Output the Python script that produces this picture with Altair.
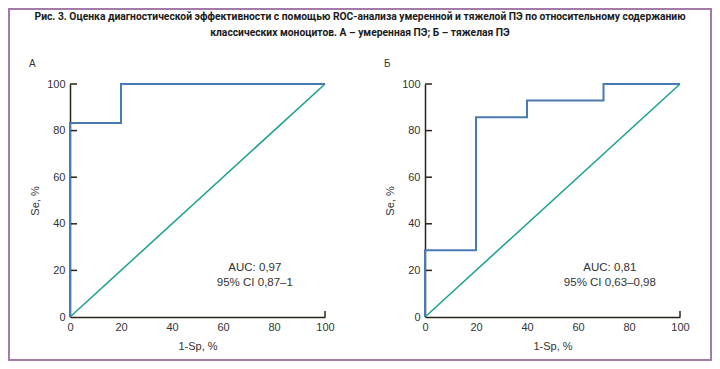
import altair as alt
import pandas as pd

# ---- data ----
fpr_a = [0, 0, 20, 20, 100]
se_a = [0, 83.3, 83.3, 100, 100]
fpr_b = [0, 0, 20, 20, 40, 40, 70, 70, 100]
se_b = [0, 28.6, 28.6, 85.7, 85.7, 92.9, 92.9, 100, 100]
diag_x = [0, 100]
diag_y = [0, 100]
ticks = [0, 20, 40, 60, 80, 100]
x_inner_ticks = [100]
auc_a = ["AUC: 0,97", "95% CI 0,87\u20131"]
auc_b = ["AUC: 0,81", "95% CI 0,63\u20130,98"]
title_lines = [
    "Рис. 3. Оценка диагностической эффективности с помощью ROC-анализа умеренной и тяжелой ПЭ по относительному содержанию",
    "классических моноцитов.  А – умеренная ПЭ; Б – тяжелая ПЭ",
]
panel_labels = ["А", "Б"]

W, H = 255, 233
FONT = "Liberation Sans"
ROC_COLOR = "#4a7ab2"
DIAG_COLOR = "#18a08c"
AXIS_COLOR = "#2b2318"
TEXT_COLOR = "#333333"
BORDER_COLOR = "#a47aa8"


def panel(fx, sy, auc, label, extra=None):
    roc_df = pd.DataFrame({"x": fx, "y": sy, "o": list(range(len(fx)))})
    diag_df = pd.DataFrame({"x": diag_x, "y": diag_y})
    txt_df = pd.DataFrame({"x": [72.5], "y": [21.0], "t": [auc]})

    xsc = alt.Scale(domain=[0, 100], nice=False)
    ysc = alt.Scale(domain=[0, 100], nice=False)
    xax = alt.Axis(values=ticks, title="1-Sp, %", grid=False, ticks=False, tickSize=0,
                   domainColor=AXIS_COLOR, domainWidth=1.5, labelFlush=False,
                   labelFont=FONT, labelFontSize=11, labelColor=TEXT_COLOR,
                   titleFont=FONT, titleFontSize=11, titleFontWeight="normal",
                   titleColor=TEXT_COLOR, labelPadding=4, titlePadding=8)
    yax = alt.Axis(values=ticks, title="Se, %", grid=False, ticks=False, tickSize=0,
                   domainColor=AXIS_COLOR, domainWidth=1.5, labelFlush=False,
                   labelFont=FONT, labelFontSize=11, labelColor=TEXT_COLOR,
                   titleFont=FONT, titleFontSize=11, titleFontWeight="normal",
                   titleColor=TEXT_COLOR, labelPadding=5, titlePadding=6)

    diag = alt.Chart(diag_df).mark_line(color=DIAG_COLOR, strokeWidth=1.5).encode(
        x=alt.X("x:Q", scale=xsc, axis=xax),
        y=alt.Y("y:Q", scale=ysc, axis=yax),
    )
    # inward tick marks
    yt = alt.Chart(pd.DataFrame({"v": ticks[1:]})).mark_rule(
        color=AXIS_COLOR, strokeWidth=1.5
    ).encode(y=alt.Y("v:Q", scale=ysc), x=alt.value(0), x2=alt.value(7))
    xt = alt.Chart(pd.DataFrame({"v": x_inner_ticks})).mark_rule(
        color=AXIS_COLOR, strokeWidth=1.5
    ).encode(x=alt.X("v:Q", scale=xsc), y=alt.value(H), y2=alt.value(H - 6))
    roc = alt.Chart(roc_df).mark_line(color=ROC_COLOR, strokeWidth=2, interpolate="linear").encode(
        x=alt.X("x:Q", scale=xsc),
        y=alt.Y("y:Q", scale=ysc),
        order="o:Q",
    )
    txt = alt.Chart(txt_df).mark_text(font=FONT, fontSize=11.5, color=TEXT_COLOR,
                                      lineHeight=15, baseline="middle", align="center").encode(
        x=alt.X("x:Q", scale=xsc),
        y=alt.Y("y:Q", scale=ysc),
        text="t",
    )
    lab = alt.Chart(pd.DataFrame({"t": [label]})).mark_text(
        font=FONT, fontSize=10, color=TEXT_COLOR, align="left", baseline="middle"
    ).encode(x=alt.value(-41), y=alt.value(-20), text="t")
    layers = [diag, yt, xt, roc, txt, lab]
    if extra is not None:
        layers = extra + layers
    return alt.layer(*layers).properties(width=W, height=H)


# border frame and figure caption (in panel A's pixel space)
border = alt.Chart(pd.DataFrame({"a": [0]})).mark_rect(
    fill=None, stroke=BORDER_COLOR, strokeWidth=2
).encode(
    x=alt.value(-61), x2=alt.value(641), y=alt.value(-75), y2=alt.value(276)
)
caption = alt.Chart(pd.DataFrame({"t": [title_lines]})).mark_text(
    font="Roboto", fontSize=10.3, fontWeight="bold", color="#1a1a1a",
    lineHeight=16, align="center", baseline="middle"
).encode(
    x=alt.value(290), y=alt.value(-67), text="t"
)

pa = panel(fpr_a, se_a, auc_a, panel_labels[0], extra=[border, caption])
pb = panel(fpr_b, se_b, auc_b, panel_labels[1])

chart = alt.hconcat(pa, pb, spacing=100, bounds="flush").properties(
    padding=0, background="white"
).configure_view(stroke=None)

chart.save("out.html", embed_options={"renderer": "svg", "actions": False})
